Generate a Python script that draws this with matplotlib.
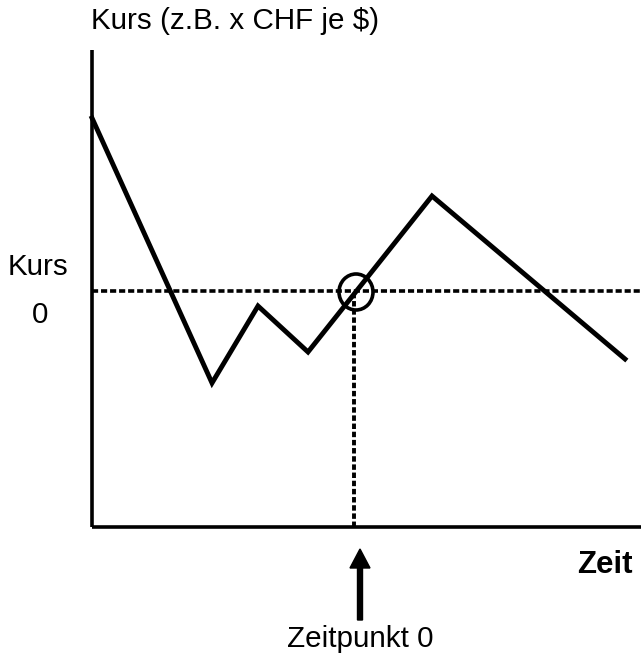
import matplotlib
matplotlib.use("Agg")
import matplotlib.pyplot as plt
from matplotlib.patches import Ellipse, FancyArrow

W, H = 641, 657
plt.rcParams['font.family'] = ['Liberation Sans', 'DejaVu Sans']

# Data (time units, price units)
time_pts = [0, 120, 166, 216, 340, 533]
kurs_pts = [409, 144, 221, 175, 331, 168]
kurs0 = 236
zeitpunkt0 = 262
x_max = 549
y_max = 477

title_text = "Kurs (z.B. x CHF je $)"
kurs_label = "Kurs"
zero_label = "0"
zeit_label = "Zeit"
zp_label = "Zeitpunkt 0"

fig = plt.figure(figsize=(W / 100, H / 100), dpi=100)
ax = fig.add_axes([92 / W, (H - 527) / H, (W - 92) / W, (527 - 50) / H])
ax.set_xlim(0, x_max)
ax.set_ylim(0, y_max)
for s in ['top', 'right']:
    ax.spines[s].set_visible(False)
for s in ['left', 'bottom']:
    ax.spines[s].set_linewidth(2.6)
    ax.spines[s].set_capstyle('butt')
ax.set_xticks([])
ax.set_yticks([])

ax.plot(time_pts, kurs_pts, color='black', lw=3.5, solid_joinstyle='miter', clip_on=False)

ax.plot([0, x_max], [kurs0, kurs0], color='black', lw=2.6, dashes=(1.7, 0.8), clip_on=False)
ax.plot([zeitpunkt0, zeitpunkt0], [0, kurs0], color='black', lw=2.8, dashes=(1.4, 0.7), clip_on=False)

ax.add_patch(Ellipse((zeitpunkt0 + 2, kurs0 - 1), 34, 36, fill=False, ec='black', lw=2.6))

ax.add_patch(FancyArrow(268, -93, 0, 71, width=5, head_width=20, head_length=19,
                        length_includes_head=True, color='black', clip_on=False))

def ftext(x, y, s, **kw):
    fig.text(x / W, 1 - y / H, s, **kw)

ftext(91, 29, title_text, fontsize=21.3, va='baseline', ha='left')
ftext(8, 275, kurs_label, fontsize=21.3, va='baseline', ha='left')
ftext(40, 323, zero_label, fontsize=21.3, va='baseline', ha='center')
ftext(577, 573, zeit_label, fontsize=22.5, fontweight='bold', va='baseline', ha='left')
ftext(360, 647, zp_label, fontsize=21.3, va='baseline', ha='center')

fig.savefig('out.png', dpi=100)
